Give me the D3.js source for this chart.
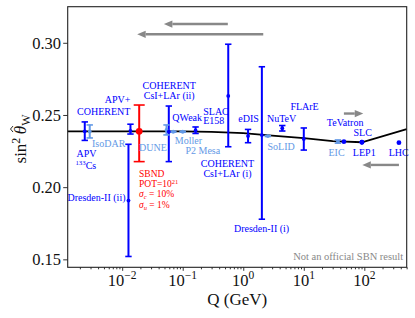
<!DOCTYPE html>
<html>
<head>
<meta charset="utf-8">
<script src="https://cdn.jsdelivr.net/npm/d3@7"></script>
<style>
  body { margin: 0; background: #fff; }
  text { font-family: "Liberation Serif", "DejaVu Serif", serif; }
</style>
</head>
<body>
<div id="chart"></div>
<script>
// SM running of the weak mixing angle (black line)
var curveQ = [0.00126, 0.01, 0.1, 0.3, 1, 3, 10, 30, 91.19, 501];
var curveS = [0.2387, 0.2387, 0.2386, 0.2383, 0.2375, 0.2357, 0.2340, 0.2319, 0.2311, 0.2402];

// measurements / projections
var expNames = ["APV Cs", "IsoDAR", "APV+COHERENT", "Dresden-II (ii)", "SBND", "DUNE", "COHERENT (ii)",
  "Moller", "P2", "QWeak", "COHERENT (i)", "eDIS", "Dresden-II (i)", "SoLID", "NuTeV", "FLArE",
  "EIC", "TeVatron", "SLC", "LEP1", "LHC"];
var expQ = [0.00241, 0.00291, 0.0137, 0.0127, 0.0191, 0.054, 0.0589,
  0.0697, 0.1, 0.163, 0.565, 1.2, 2.03, 2.55, 4.41, 10.0,
  36.6, 46, 91.19, 91.19, 373];
var expS = [0.2387, 0.2386, 0.2390, 0.1907, 0.2387, 0.2396, 0.2384,
  0.2384, 0.2384, 0.2393, 0.2632, 0.2354, 0.2361, 0.2354, 0.2408, 0.2334,
  0.2316, 0.2315, 0.2311, 0.2311, 0.2308];
var expLo = [0.2324, 0.2341, 0.2368, 0.1520, 0.2177, 0.2362, 0.2177,
  0.2381, 0.2381, 0.2372, 0.2280, 0.2308, 0.1778, 0.2351, 0.2389, 0.2257,
  0.2305, null, null, null, null];
var expHi = [0.2452, 0.2431, 0.2436, 0.2297, 0.2569, 0.2431, 0.2562,
  0.2387, 0.2387, 0.2417, 0.2990, 0.2400, 0.2834, 0.2357, 0.2427, 0.2410,
  0.2327, null, null, null, null];
var expGroup = ["dark", "light", "dark", "dark", "sbnd", "light", "dark",
  "light", "light", "dark", "dark", "dark", "dark", "light", "dark", "dark",
  "light", "dark", "dark", "dark", "dark"];

// text annotations (Q, sin2 of the baseline)
var labelText = ["APV+", "COHERENT", "APV", "^{133}Cs", "IsoDAR", "Dresden-II (ii)", "DUNE",
  "SBND", "POT=10^{21}", "σ_{c} = 10%", "σ_{u} = 1%", "COHERENT", "CsI+LAr (ii)", "QWeak",
  "SLAC", "E158", "Moller", "P2 Mesa", "COHERENT", "CsI+LAr (i)", "Dresden-II (i)", "eDIS",
  "NuTeV", "SoLID", "FLArE", "TeVatron", "SLC", "EIC", "LEP1", "LHC"];
var labelQ = [0.0137, 0.0137, 0.00176, 0.00169, 0.00317, 0.01134, 0.0190,
  0.0190, 0.0190, 0.0190, 0.0190, 0.0598, 0.0598, 0.1186,
  0.2183, 0.2183, 0.0739, 0.1111, 0.5495, 0.5495, 2.006, 1.224,
  4.296, 2.52, 10.3, 48.2, 93.8, 34.8, 99.8, 369];
var labelS = [0.2580, 0.2500, 0.2206, 0.2129, 0.2278, 0.1901, 0.2251,
  0.2067, 0.1998, 0.1929, 0.1859, 0.2683, 0.2614, 0.2460,
  0.2503, 0.2434, 0.2298, 0.2228, 0.2141, 0.2072, 0.1686, 0.2453,
  0.2453, 0.2256, 0.2533, 0.2422, 0.2356, 0.2217, 0.2215, 0.2215];
var labelAnchor = ["end", "end", "start", "start", "start", "end", "start",
  "start", "start", "start", "start", "middle", "middle", "middle",
  "start", "start", "start", "start", "middle", "middle", "middle", "middle",
  "middle", "start", "middle", "middle", "middle", "middle", "middle", "middle"];
var labelGroup = ["dark", "dark", "dark", "dark", "light", "dark", "light",
  "sbnd", "sbnd", "sbnd", "sbnd", "dark", "dark", "dark",
  "dark", "dark", "light", "light", "dark", "dark", "dark", "dark",
  "dark", "light", "dark", "dark", "dark", "light", "dark", "dark"];

// gray arrows
var arrowFromQ = [0.556, 2.14, 46, 373];
var arrowToQ = [0.0488, 0.0177, 96, 92.7];
var arrowS = [0.3130, 0.3059, 0.2510, 0.2154];

var xMajor = [0.01, 0.1, 1, 10, 100];
var xMajorExp = ["−2", "−1", "0", "1", "2"];
var yTicks = [0.15, 0.20, 0.25, 0.30];

var colors = {dark: "#0000ff", light: "#6399e6", sbnd: "#ff0000"};

// size of the svg
var svgWidth = 415;
var svgHeight = 318;
var margin = {top: 6.7, right: 8.3, bottom: 50.7, left: 67.7};
var width = svgWidth - margin.left - margin.right;
var height = svgHeight - margin.top - margin.bottom;

var svg = d3.select("#chart")
  .append("svg")
  .attr("width", svgWidth)
  .attr("height", svgHeight);

var chartGroup = svg.append("g")
  .attr("transform", `translate(${margin.left}, ${margin.top})`);

// scales
var x = d3.scaleLog()
  .domain([Math.pow(10, -2.9), Math.pow(10, 2.7)])
  .range([0, width]);
var y = d3.scaleLinear()
  .domain([0.1445, 0.325])
  .range([height, 0]);

// x axis: minor + major ticks
var xMinor = [];
for (var k = -3; k <= 2; k++) {
  for (var m = 2; m <= 9; m++) {
    var v = m * Math.pow(10, k);
    if (v > x.domain()[0] && v < x.domain()[1]) xMinor.push(v);
  }
}
var gxm = chartGroup.append("g")
  .attr("transform", `translate(0, ${height})`)
  .call(d3.axisBottom(x).tickValues(xMinor).tickSize(2).tickFormat(""));
var gx = chartGroup.append("g")
  .attr("transform", `translate(0, ${height})`)
  .call(d3.axisBottom(x).tickValues(xMajor).tickSize(3.5).tickFormat(""));
[gxm, gx].forEach(function(g) {
  g.select(".domain").remove();
  g.selectAll("line").attr("stroke", "#333").attr("stroke-width", 1);
});

xMajor.forEach(function(d, i) {
  var t = chartGroup.append("text")
    .attr("x", x(d))
    .attr("y", height + 18.6)
    .attr("text-anchor", "middle")
    .style("font-size", "16.5px")
    .attr("fill", "#111");
  t.append("tspan").text("10");
  t.append("tspan").attr("dy", -7).style("font-size", "11.5px").text(xMajorExp[i]);
});

// y axis
var gy = chartGroup.append("g")
  .call(d3.axisLeft(y).tickValues(yTicks).tickSize(4.5).tickPadding(2.2).tickFormat(d3.format(".2f")));
gy.select(".domain").remove();
gy.selectAll("line").attr("stroke", "#333");
gy.selectAll("text")
  .style("font-size", "16.5px")
  .style("font-family", "'Liberation Serif', serif")
  .attr("fill", "#111");

// running curve
var line = d3.line()
  .x(function(d, i) { return x(curveQ[i]); })
  .y(function(d) { return y(d); });
chartGroup.append("path")
  .datum(curveS)
  .attr("d", line)
  .attr("fill", "none")
  .attr("stroke", "#000")
  .attr("stroke-width", 1.8);

// error bars
var idx = d3.range(expNames.length);
var withBars = idx.filter(function(i) { return expLo[i] !== null; });

chartGroup.selectAll(".ebar")
  .data(withBars)
  .enter()
  .append("line")
  .attr("class", "ebar")
  .attr("x1", function(i) { return x(expQ[i]); })
  .attr("x2", function(i) { return x(expQ[i]); })
  .attr("y1", function(i) { return y(expLo[i]); })
  .attr("y2", function(i) { return y(expHi[i]); })
  .attr("stroke", function(i) { return colors[expGroup[i]]; })
  .attr("stroke-width", 2);

["lo", "hi"].forEach(function(end) {
  chartGroup.selectAll(".cap-" + end)
    .data(withBars)
    .enter()
    .append("line")
    .attr("class", "cap-" + end)
    .attr("x1", function(i) { return x(expQ[i]) - (expGroup[i] === "sbnd" ? 5.5 : 3.2); })
    .attr("x2", function(i) { return x(expQ[i]) + (expGroup[i] === "sbnd" ? 5.5 : 3.2); })
    .attr("y1", function(i) { return y(end === "lo" ? expLo[i] : expHi[i]); })
    .attr("y2", function(i) { return y(end === "lo" ? expLo[i] : expHi[i]); })
    .attr("stroke", function(i) { return colors[expGroup[i]]; })
    .attr("stroke-width", 1.6);
});

// points
chartGroup.selectAll(".pt")
  .data(idx)
  .enter()
  .append("circle")
  .attr("class", "pt")
  .attr("cx", function(i) { return x(expQ[i]); })
  .attr("cy", function(i) { return y(expS[i]); })
  .attr("r", function(i) {
    if (expGroup[i] === "sbnd") return 3.4;
    if (expLo[i] === null) return 2.4;
    return 1.9;
  })
  .attr("fill", function(i) { return colors[expGroup[i]]; });

// labels, with ^{..} and _{..} for super/subscripts
function richText(sel, str, size) {
  var parts = str.split(/([\^_]\{[^}]*\})/);
  var shift = 0;
  parts.forEach(function(p) {
    if (!p) return;
    var target = 0, s = size, italic = false;
    if (p[0] === "^") { target = -0.33 * size; s = 0.68 * size; p = p.slice(2, -1); }
    else if (p[0] === "_") { target = 0.22 * size; s = 0.68 * size; p = p.slice(2, -1); italic = true; }
    if (p === "σ") italic = true;
    sel.append("tspan")
      .attr("dy", target - shift)
      .style("font-size", s + "px")
      .style("font-style", italic ? "italic" : "normal")
      .text(p);
    shift = target;
  });
}

labelText.forEach(function(txt, i) {
  var t = chartGroup.append("text")
    .attr("x", x(labelQ[i]))
    .attr("y", y(labelS[i]))
    .attr("text-anchor", labelAnchor[i])
    .attr("fill", colors[labelGroup[i]]);
  richText(t, txt, labelGroup[i] === "sbnd" ? 9.5 : 10);
});

// arrows
arrowS.forEach(function(s, i) {
  var x0 = x(arrowFromQ[i]), x1 = x(arrowToQ[i]), yy = y(s);
  var dir = x1 > x0 ? 1 : -1;
  var head = 8.5;
  chartGroup.append("line")
    .attr("x1", x0).attr("x2", x1 - dir * head)
    .attr("y1", yy).attr("y2", yy)
    .attr("stroke", "#888")
    .attr("stroke-width", 2.4);
  chartGroup.append("path")
    .attr("d", `M${x1},${yy} L${x1 - dir * head},${yy - 3.6} L${x1 - dir * head},${yy + 3.6} Z`)
    .attr("fill", "#888");
});

// frame
chartGroup.append("rect")
  .attr("width", width)
  .attr("height", height)
  .attr("fill", "none")
  .attr("stroke", "#222")
  .attr("stroke-width", 1.1);

chartGroup.append("text")
  .attr("x", width - 3.5)
  .attr("y", height - 7)
  .attr("text-anchor", "end")
  .attr("fill", "#888")
  .style("font-size", "10.5px")
  .text("Not an official SBN result");

// axis titles
svg.append("text")
  .attr("x", margin.left + width / 2)
  .attr("y", 305)
  .attr("text-anchor", "middle")
  .style("font-size", "17px")
  .attr("fill", "#111")
  .text("Q (GeV)");

var yLab = svg.append("g").attr("transform", "translate(26, 139) rotate(-90)");
var yText = yLab.append("text")
  .attr("text-anchor", "middle")
  .attr("fill", "#111")
  .style("font-size", "17px");
yText.append("tspan").text("sin");
yText.append("tspan").attr("dy", -6.5).style("font-size", "12px").text("2");
yText.append("tspan").attr("dy", 6.5).text("\u2009");
yText.append("tspan").style("font-style", "italic").text("θ");
yText.append("tspan").attr("dy", 3.5).style("font-size", "12px").text("W");
// hat over theta
var node = yText.node();
var p0 = node.getStartPositionOfChar(5), p1 = node.getEndPositionOfChar(5);
var hx = (p0.x + p1.x) / 2 + 1;
yLab.append("path")
  .attr("d", `M${hx - 3},-13 L${hx},-15.5 L${hx + 3},-13`)
  .attr("fill", "none")
  .attr("stroke", "#111")
  .attr("stroke-width", 0.9);
</script>
</body>
</html>
